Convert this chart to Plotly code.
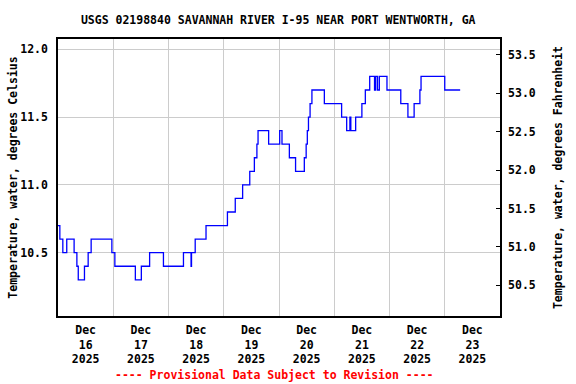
import datetime as dt
import plotly.graph_objects as go

# Change points: hours since 2025-12-16 00:00 and water temperature (deg C)
hours = [0, 0.8, 2.1, 3.8, 7.0, 8.2, 8.8, 11.5, 13.1, 14.4, 23.4, 24.7, 33.6, 36.2,
         39.8, 45.8, 54.5, 57.8, 58.0, 59.6, 64.3, 73.6, 77.0, 80.2, 83.3, 85.3,
         86.4, 86.9, 91.5, 96.3, 97.3, 100.5, 103.2, 107.0, 107.8, 108.3, 108.8,
         109.5, 110.3, 115.7, 123.2, 125.4, 126.8, 127.2, 129.3, 132.0, 133.5,
         135.4, 137.5, 138.0, 138.8, 139.6, 142.9, 148.9, 152.0, 154.7, 157.2,
         157.7, 168.0, 174.7]
temp_c = [10.7, 10.6, 10.5, 10.6, 10.5, 10.4, 10.3, 10.4, 10.5, 10.6, 10.5, 10.4, 10.3, 10.4,
          10.5, 10.4, 10.5, 10.4, 10.5, 10.6, 10.7, 10.8, 10.9, 11.0, 11.1, 11.2,
          11.3, 11.4, 11.3, 11.4, 11.3, 11.2, 11.1, 11.2, 11.3, 11.4, 11.5,
          11.6, 11.7, 11.6, 11.5, 11.4, 11.5, 11.4, 11.5, 11.6, 11.7,
          11.8, 11.7, 11.8, 11.7, 11.8, 11.7, 11.6, 11.5, 11.6, 11.7,
          11.8, 11.7, 11.7]

day_labels = ["Dec<br>16<br>2025", "Dec<br>17<br>2025", "Dec<br>18<br>2025", "Dec<br>19<br>2025",
              "Dec<br>20<br>2025", "Dec<br>21<br>2025", "Dec<br>22<br>2025", "Dec<br>23<br>2025"]
c_ticks = [10.5, 11.0, 11.5, 12.0]
f_ticks = [50.5, 51.0, 51.5, 52.0, 52.5, 53.0, 53.5]

base = dt.datetime(2025, 12, 16)
times = [base + dt.timedelta(hours=h) for h in hours]
temp_f = [c * 1.8 + 32 for c in temp_c]
label_pos = [base + dt.timedelta(days=i, hours=12) for i in range(len(day_labels))]
grid_pos = [base + dt.timedelta(days=i) for i in range(len(day_labels) + 1)]

FONT = "DejaVu Sans Mono"
TFONT = dict(family=FONT, size=11.5, color="black", weight="bold")

fig = go.Figure()
fig.add_trace(go.Scatter(x=times, y=temp_c, mode="lines", line=dict(color="#0000ff", width=1.3, shape="hv"),
                         showlegend=False, hoverinfo="skip"))
fig.add_trace(go.Scatter(x=times, y=temp_f, yaxis="y2", mode="lines", line=dict(width=0), opacity=0,
                         showlegend=False, hoverinfo="skip"))

fig.update_layout(
    width=576, height=384,
    margin=dict(l=58, r=76, t=39, b=68, autoexpand=False),
    paper_bgcolor="white", plot_bgcolor="white",
    font=TFONT,
    title=dict(text="USGS 02198840 SAVANNAH RIVER I-95 NEAR PORT WENTWORTH, GA",
               x=0.483, xanchor="center", y=1 - 20 / 384, yanchor="middle", font=TFONT),
    xaxis=dict(range=[base, base + dt.timedelta(days=8)], tickmode="array", tickvals=label_pos,
               ticktext=day_labels, ticks="", ticklabelstandoff=2, showgrid=False, showline=True,
               linecolor="black", linewidth=1.5, mirror=True, zeroline=False, automargin=False,
               tickfont=TFONT,
               minor=dict(tickmode="array", tickvals=grid_pos, showgrid=True, gridcolor="#cccccc",
                          gridwidth=1, ticks="")),
    yaxis=dict(range=[10.033, 12.076], tickmode="array", tickvals=c_ticks,
               ticktext=[f"{v:.1f}" for v in c_ticks], ticks="", ticklabelstandoff=6,
               showgrid=True, gridcolor="#cccccc", tickfont=TFONT,
               gridwidth=1, showline=True, linecolor="black", linewidth=1.5, mirror=True,
               zeroline=False, automargin=False,
               title=dict(text="Temperature, water, degrees Celsius", standoff=0, font=TFONT)),
    yaxis2=dict(range=[50.100, 53.708], overlaying="y", side="right", tickmode="array",
                tickvals=f_ticks, ticktext=[f"{v:.1f}" for v in f_ticks], ticks="inside",
                ticklen=4, tickcolor="black", ticklabelstandoff=4, showgrid=False, showline=True,
                linecolor="black", linewidth=1.5, zeroline=False, automargin=False, tickfont=TFONT,
                title=dict(text="Temperature, water, degrees Fahrenheit", standoff=19, font=TFONT)),
)

fig.add_annotation(text="---- Provisional Data Subject to Revision ----", xref="paper", yref="paper",
                   x=0.49, y=-(375 - 316) / 277, xanchor="center", yanchor="middle", showarrow=False,
                   font=dict(family=FONT, size=11.5, color="red", weight="bold"))

fig.write_html("out.html")
